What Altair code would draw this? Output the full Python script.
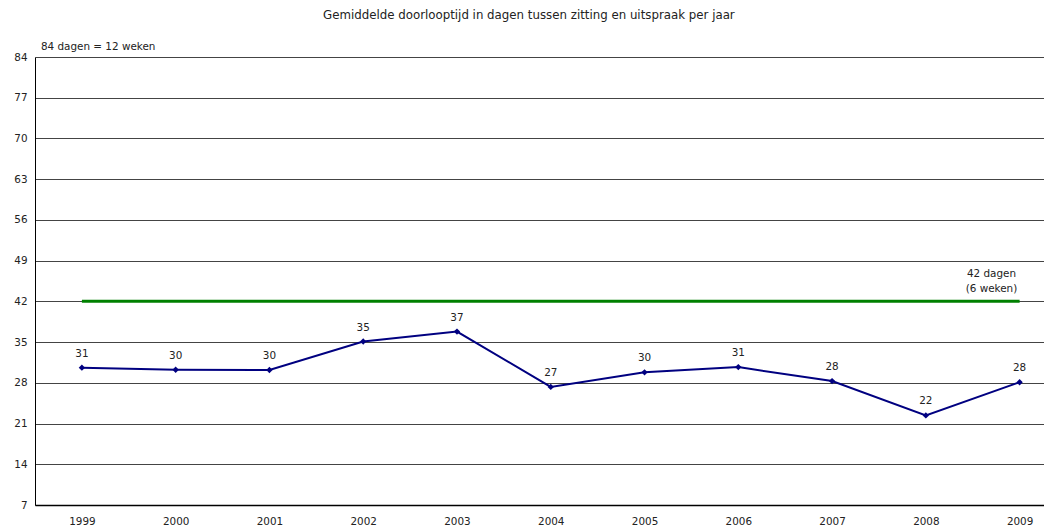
import altair as alt
import pandas as pd

years = [1999, 2000, 2001, 2002, 2003, 2004, 2005, 2006, 2007, 2008, 2009]
values = [30.6, 30.25, 30.2, 35.1, 36.8, 27.3, 29.8, 30.7, 28.3, 22.4, 28.1]
y_ticks = [7, 14, 21, 28, 35, 42, 49, 56, 63, 70, 77, 84]
norm_value = 42
norm_label = ["42 dagen", "(6 weken)"]
norm_label_year = 2008.7
top_note = "84 dagen = 12 weken"
title_text = "Gemiddelde doorlooptijd in dagen tussen zitting en uitspraak per jaar"

FONT = "DejaVu Sans"
FS = 10.4
df = pd.DataFrame({"jaar": years, "dagen": values})
norm_df = pd.DataFrame({"x1": [years[0]], "x2": [years[-1]], "y": [norm_value]})
norm_lbl_df = pd.DataFrame({"x": [norm_label_year], "y": [norm_value], "t": [norm_label]})

x_scale = alt.Scale(domain=[1998.5, 2009.26], nice=False, zero=False)
y_scale = alt.Scale(domain=[7, 84], nice=False, zero=False)

x_enc = alt.X("jaar:Q", scale=x_scale, title=None,
              axis=alt.Axis(values=years, format="d", grid=False, ticks=False,
                            domainColor="black", domainWidth=1.5,
                            labelFont=FONT, labelFontSize=FS, labelColor="#222",
                            labelPadding=11, labelFlush=False))
y_enc = alt.Y("dagen:Q", scale=y_scale, title=None,
              axis=alt.Axis(values=y_ticks, grid=True, gridColor="#444", gridWidth=1,
                            ticks=False, domainColor="black", domainWidth=1,
                            labelFont=FONT, labelFontSize=FS, labelColor="#222",
                            labelPadding=8))

base = alt.Chart(df)
line = base.mark_line(color="#000080", strokeWidth=2).encode(x=x_enc, y=y_enc)
pts = base.mark_point(shape="diamond", filled=True, color="#000080", size=40, opacity=1).encode(
    x="jaar:Q", y="dagen:Q")
lbls = base.mark_text(font=FONT, fontSize=FS, color="#222", dy=-14).encode(
    x="jaar:Q", y="dagen:Q", text=alt.Text("dagen:Q", format=".0f"))

norm = alt.Chart(norm_df).mark_rule(color="#008000", strokeWidth=3).encode(
    x="x1:Q", x2="x2:Q", y="y:Q")
norm_lbl = alt.Chart(norm_lbl_df).mark_text(font=FONT, fontSize=FS, color="#222",
                                            lineHeight=15, baseline="bottom", dy=-22).encode(
    x="x:Q", y="y:Q", text="t")

note = alt.Chart(pd.DataFrame({"t": [top_note]})).mark_text(
    font=FONT, fontSize=FS, color="#222", align="left", baseline="middle").encode(
    x=alt.value(6), y=alt.value(-10), text="t:N")

chart = alt.layer(norm, line, pts, lbls, norm_lbl, note).properties(
    width=1009, height=448,
    autosize="none",
    padding={"left": 27, "top": 49, "right": 0, "bottom": 22},
    title=alt.TitleParams(title_text, font=FONT, fontSize=11.8, fontWeight="normal",
                          color="#222", anchor="middle", frame="bounds", offset=20),
).configure_view(stroke=None).configure(background="white")

chart.save("out.html", embed_options={"renderer": "svg", "actions": False})
